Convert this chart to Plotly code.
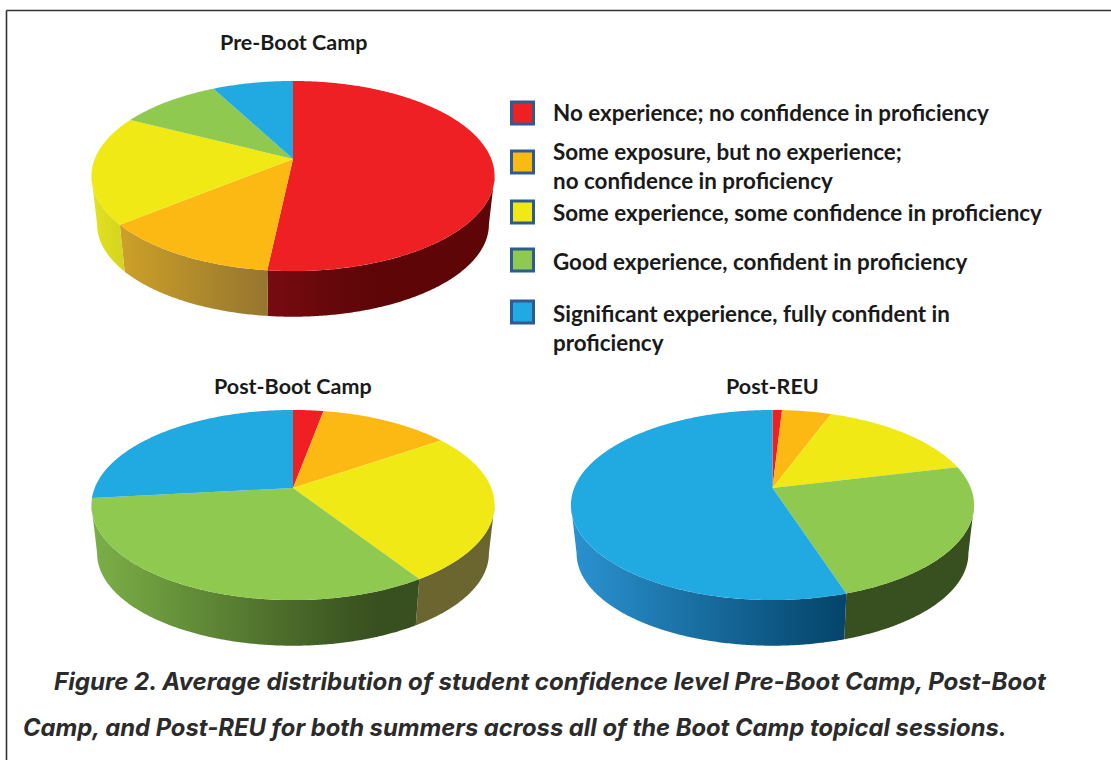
import numpy as np
import plotly.graph_objects as go

CATEGORIES = [
    "No experience; no confidence in proficiency",
    "Some exposure, but no experience;<br>no confidence in proficiency",
    "Some experience, some confidence in proficiency",
    "Good experience, confident in proficiency",
    "Significant experience, fully confident in<br>proficiency",
]
COLORS = ["#ee2024", "#fdb913", "#f0e916", "#8fc950", "#21a9e1"]
WALL_LIGHT = [(164, 25, 33), (214, 168, 39), (225, 225, 30), (123, 175, 71), (42, 146, 208)]
WALL_DARK = [(94, 5, 8), (114, 88, 53), (107, 101, 48), (56, 80, 31), (4, 68, 106)]

PRE_BOOT_CAMP = [51.7, 12.4, 18.5, 9.7, 7.7]
POST_BOOT_CAMP = [2.9, 12.5, 25.5, 32.4, 26.7]
POST_REU = [0.9, 4.7, 15.6, 23.8, 55.0]

CAPTION_1 = "Figure 2. Average distribution of student confidence level Pre-Boot Camp, Post-Boot"
CAPTION_2 = "Camp, and Post-REU for both summers across all of the Boot Camp topical sessions."

# pie placements in page pixels
PIES = [
    ("Pre-Boot Camp", PRE_BOOT_CAMP, 293, 159, 42),
    ("Post-Boot Camp", POST_BOOT_CAMP, 293, 488, 386),
    ("Post-REU", POST_REU, 772.5, 488, 386),
]
K = 0.179          # perspective strength
RX, RY = 198.3, 92.0
DEPTH, BOTTOM_SCALE = 48.8, 0.972
WALL_LO = np.degrees(np.arccos(-K))          # visible wall runs from here...
WALL_HI = 360 - WALL_LO                      # ...to here


def project(t_deg, cx, ay, scale=1.0, drop=0.0):
    t = np.radians(t_deg)
    w = 1 + K * np.cos(t)
    return cx + scale * RX * np.sin(t) / w, ay + drop - scale * RY * np.cos(t) / w


def wall_color(i, n):
    f = min(max(n, 0) / 0.68, 1)
    return "rgb(%d,%d,%d)" % tuple(round(a + (b - a) * f) for a, b in zip(WALL_LIGHT[i], WALL_DARK[i]))


fig = go.Figure()

for title, values, cx, ay, ty in PIES:
    edges = np.concatenate([[0], np.cumsum(values)]) / np.sum(values) * 360
    # side wall
    for i, name in enumerate(CATEGORIES):
        a, b = max(edges[i], WALL_LO), min(edges[i + 1], WALL_HI)
        if b <= a:
            continue
        ts = np.linspace(a, b, max(int(b - a) * 2, 2))
        x0, y0 = project(ts, cx, ay)
        x1, y1 = project(ts[::-1], cx, ay, BOTTOM_SCALE, DEPTH)
        xs = np.concatenate([x0, x1, x0[:1]])
        ys = np.concatenate([y0, y1, y0[:1]])
        lo, hi = xs.min(), xs.max()
        stops = np.linspace(0, 1, 9)
        scale = [[float(s), wall_color(i, (lo + s * (hi - lo) - (cx - RX)) / (2 * RX))] for s in stops]
        fig.add_trace(go.Scatter(x=xs, y=ys, mode="none", fill="toself", showlegend=False,
                                 hoverinfo="skip",
                                 fillgradient=dict(type="horizontal", colorscale=scale)))
    # top face
    for i, name in enumerate(CATEGORIES):
        ts = np.linspace(edges[i], edges[i + 1], max(int(edges[i + 1] - edges[i]) * 2, 3))
        x0, y0 = project(ts, cx, ay)
        fig.add_trace(go.Scatter(x=np.concatenate([[cx], x0, [cx]]), y=np.concatenate([[ay], y0, [ay]]),
                                 mode="none", fill="toself", fillcolor=COLORS[i], showlegend=False,
                                 name=name.replace("<br>", " "), hoverinfo="name"))
    fig.add_annotation(x=cx, y=ty, text="<b>%s</b>" % title, showarrow=False, xanchor="center",
                       yanchor="middle", font=dict(family="Lato", size=21.5, color="#1a1a1a"))

# legend
LEG_Y = [113, 162, 212, 260, 312]
TEXT_Y = [112, 165.5, 212, 261, 327.5]
fig.add_trace(go.Scatter(x=[522.5] * 5, y=LEG_Y, mode="markers", showlegend=False, hoverinfo="skip",
                         marker=dict(symbol="square", size=22, color=COLORS,
                                     line=dict(color="#2f5b93", width=3))))
for label, ty in zip(CATEGORIES, TEXT_Y):
    fig.add_annotation(x=551, y=ty, text=label, showarrow=False, xanchor="left", yanchor="middle",
                       align="left",
                       font=dict(family="Lato", size=22.4, color="#1a1a1a", weight=700))

# caption
for text, x, y, size in ((CAPTION_1, 52, 681, 24.1), (CAPTION_2, 21, 727, 23.8)):
    fig.add_annotation(x=x, y=y, text=text, showarrow=False, xanchor="left", yanchor="middle",
                       font=dict(family="Inter", size=size, color="#2b2b2b", weight=700, style="italic"))

# frame
frame = dict(color="#333333", width=1.6)
fig.add_shape(type="line", x0=6.5, x1=1111, y0=10.5, y1=10.5, line=frame, layer="below")
fig.add_shape(type="line", x0=6.5, x1=6.5, y0=10.5, y1=760, line=frame, layer="below")

fig.update_layout(
    width=1111, height=760, margin=dict(l=0, r=0, t=0, b=0),
    paper_bgcolor="white", plot_bgcolor="white", showlegend=False,
    xaxis=dict(range=[0, 1111], visible=False, fixedrange=True),
    yaxis=dict(range=[760, 0], visible=False, fixedrange=True),
)
fig.write_html("out.html", config={"displayModeBar": False},
               post_script="document.body.style.margin='0';document.body.style.overflow='hidden';")
